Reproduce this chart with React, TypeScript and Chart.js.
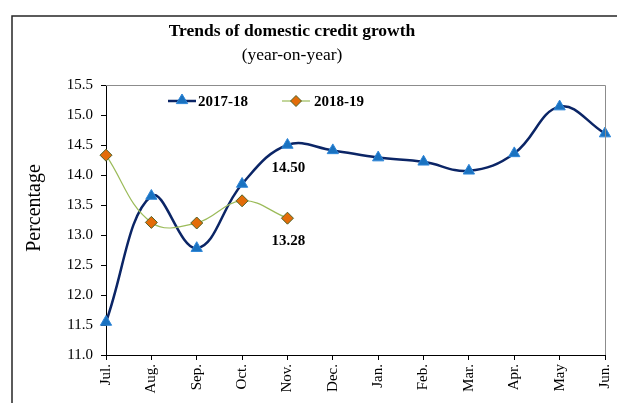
import React, { useEffect, useRef } from "react";
import { Chart, registerables } from "chart.js";

Chart.register(...registerables);

const months = ["Jul.", "Aug.", "Sep.", "Oct.", "Nov.", "Dec.", "Jan.", "Feb.", "Mar.", "Apr.", "May", "Jun."];
const series1718 = [11.55, 13.65, 12.78, 13.85, 14.5, 14.41, 14.29, 14.22, 14.07, 14.36, 15.14, 14.69];
const series1819 = [14.33, 13.21, 13.2, 13.57, 13.28, null, null, null, null, null, null, null];
const yTicks = { min: 11.0, max: 15.5, step: 0.5 };
const chartTitle = "Trends of domestic credit growth";
const chartSubtitle = "(year-on-year)";
const yTitle = "Percentage";
const seriesNames = ["2017-18", "2018-19"];
const annotated = [
  { series: 0, index: 4, text: "14.50" },
  { series: 1, index: 4, text: "13.28" },
];

const SERIF = '"Liberation Serif", "Times New Roman", serif';
const NAVY = "#0B2566";
const BLUE = "#1A72C0";
const GREEN = "#9BBB59";
const ORANGE = "#E36C09";

function drawTriangle(ctx: CanvasRenderingContext2D, x: number, y: number, r: number) {
  ctx.save();
  ctx.beginPath();
  ctx.moveTo(x, y - r);
  ctx.lineTo(x + r * 0.95, y + r * 0.6);
  ctx.lineTo(x - r * 0.95, y + r * 0.6);
  ctx.closePath();
  ctx.fillStyle = BLUE;
  ctx.fill();
  ctx.strokeStyle = "#2E86D8";
  ctx.lineWidth = 1;
  ctx.stroke();
  ctx.restore();
}

function drawDiamond(ctx: CanvasRenderingContext2D, x: number, y: number, r: number) {
  ctx.save();
  ctx.beginPath();
  ctx.moveTo(x, y - r);
  ctx.lineTo(x + r, y);
  ctx.lineTo(x, y + r);
  ctx.lineTo(x - r, y);
  ctx.closePath();
  ctx.fillStyle = ORANGE;
  ctx.fill();
  ctx.strokeStyle = "#4F6228";
  ctx.lineWidth = 1;
  ctx.stroke();
  ctx.restore();
}

const decorPlugin = {
  id: "decor",
  beforeDraw(chart: any) {
    const ctx = chart.ctx as CanvasRenderingContext2D;
    ctx.save();
    ctx.fillStyle = "#ffffff";
    ctx.fillRect(0, 0, chart.width, chart.height);
    ctx.restore();
  },
  afterDraw(chart: any) {
    const ctx = chart.ctx as CanvasRenderingContext2D;
    const area = chart.chartArea;
    ctx.save();
    // outer frame
    ctx.strokeStyle = "#262626";
    ctx.lineWidth = 1.5;
    ctx.strokeRect(12, 16, chart.width + 50, chart.height + 50);
    // plot border top/right
    ctx.strokeStyle = "#8c8c8c";
    ctx.lineWidth = 1;
    ctx.beginPath();
    ctx.moveTo(area.left, area.top + 0.5);
    ctx.lineTo(area.right + 0.5, area.top + 0.5);
    ctx.lineTo(area.right + 0.5, area.bottom);
    ctx.stroke();
    // titles
    ctx.fillStyle = "#000";
    ctx.textAlign = "center";
    ctx.textBaseline = "middle";
    ctx.font = `bold 17.5px ${SERIF}`;
    ctx.fillText(chartTitle, 292, 31);
    ctx.font = `17.5px ${SERIF}`;
    ctx.fillText(chartSubtitle, 292, 55);
    // y title
    ctx.save();
    ctx.translate(35, 208);
    ctx.rotate(-Math.PI / 2);
    ctx.font = `20px ${SERIF}`;
    ctx.fillText(yTitle, 0, 0);
    ctx.restore();
    // legend
    ctx.strokeStyle = NAVY;
    ctx.lineWidth = 2.5;
    ctx.beginPath();
    ctx.moveTo(168, 101);
    ctx.lineTo(196, 101);
    ctx.stroke();
    drawTriangle(ctx, 182, 100, 6);
    ctx.strokeStyle = GREEN;
    ctx.lineWidth = 1.2;
    ctx.beginPath();
    ctx.moveTo(282, 101);
    ctx.lineTo(310, 101);
    ctx.stroke();
    drawDiamond(ctx, 296, 101, 5.5);
    ctx.fillStyle = "#000";
    ctx.textAlign = "left";
    ctx.font = `bold 15px ${SERIF}`;
    ctx.fillText(seriesNames[0], 198, 102);
    ctx.fillText(seriesNames[1], 314, 102);
    // data labels
    ctx.textAlign = "center";
    annotated.forEach((a) => {
      const meta = chart.getDatasetMeta(a.series);
      const pt = meta.data[a.index];
      if (!pt) return;
      ctx.fillText(a.text, pt.x + 1, pt.y + 23);
    });
    ctx.restore();
  },
};

export default function App() {
  const ref = useRef<HTMLCanvasElement>(null);
  useEffect(() => {
    if (!ref.current) return;
    const chart = new Chart(ref.current, {
      type: "line",
      data: {
        labels: months,
        datasets: [
          {
            label: seriesNames[0],
            data: series1718,
            borderColor: NAVY,
            borderWidth: 2.5,
            tension: 0.4,
            pointStyle: "triangle",
            pointRadius: 6.5,
            pointBackgroundColor: BLUE,
            pointBorderColor: "#2E86D8",
            pointBorderWidth: 1,
            order: 2,
          },
          {
            label: seriesNames[1],
            data: series1819,
            borderColor: GREEN,
            borderWidth: 1.2,
            tension: 0.4,
            pointStyle: "rectRot",
            pointRadius: 6,
            pointBackgroundColor: ORANGE,
            pointBorderColor: "#4F6228",
            pointBorderWidth: 1,
            spanGaps: false,
            order: 1,
          },
        ],
      },
      options: {
        responsive: false,
        animation: false,
        layout: { padding: { left: 0, top: 85, right: 12, bottom: 0 } },
        plugins: {
          legend: { display: false },
          title: { display: false },
          tooltip: { enabled: false },
        },
        scales: {
          x: {
            offset: false,
            grid: { display: true, drawOnChartArea: false, tickLength: 5, color: "#000" },
            border: { display: true, color: "#000", width: 1 },
            ticks: {
              minRotation: 90,
              maxRotation: 90,
              autoSkip: false,
              padding: 4,
              color: "#000",
              font: { family: SERIF, size: 15 },
            },
            afterFit: (s: any) => {
              s.height = 48;
              s.paddingLeft = 0;
              s.paddingRight = 0;
            },
          },
          y: {
            min: yTicks.min,
            max: yTicks.max,
            grid: { display: true, drawOnChartArea: false, tickLength: 5, color: "#000" },
            border: { display: true, color: "#000", width: 1 },
            ticks: {
              stepSize: yTicks.step,
              padding: 8,
              color: "#000",
              font: { family: SERIF, size: 15 },
              callback: (v: any) => Number(v).toFixed(1),
            },
            afterFit: (s: any) => {
              s.width = 106;
              s.paddingTop = 0;
              s.paddingBottom = 0;
            },
          },
        },
      },
      plugins: [decorPlugin],
    });
    return () => chart.destroy();
  }, []);
  return (
    <div style={{ position: "fixed", left: 0, top: 0, width: 617, height: 403, background: "#fff" }}>
      <canvas ref={ref} width={617} height={403} style={{ display: "block" }} />
    </div>
  );
}
